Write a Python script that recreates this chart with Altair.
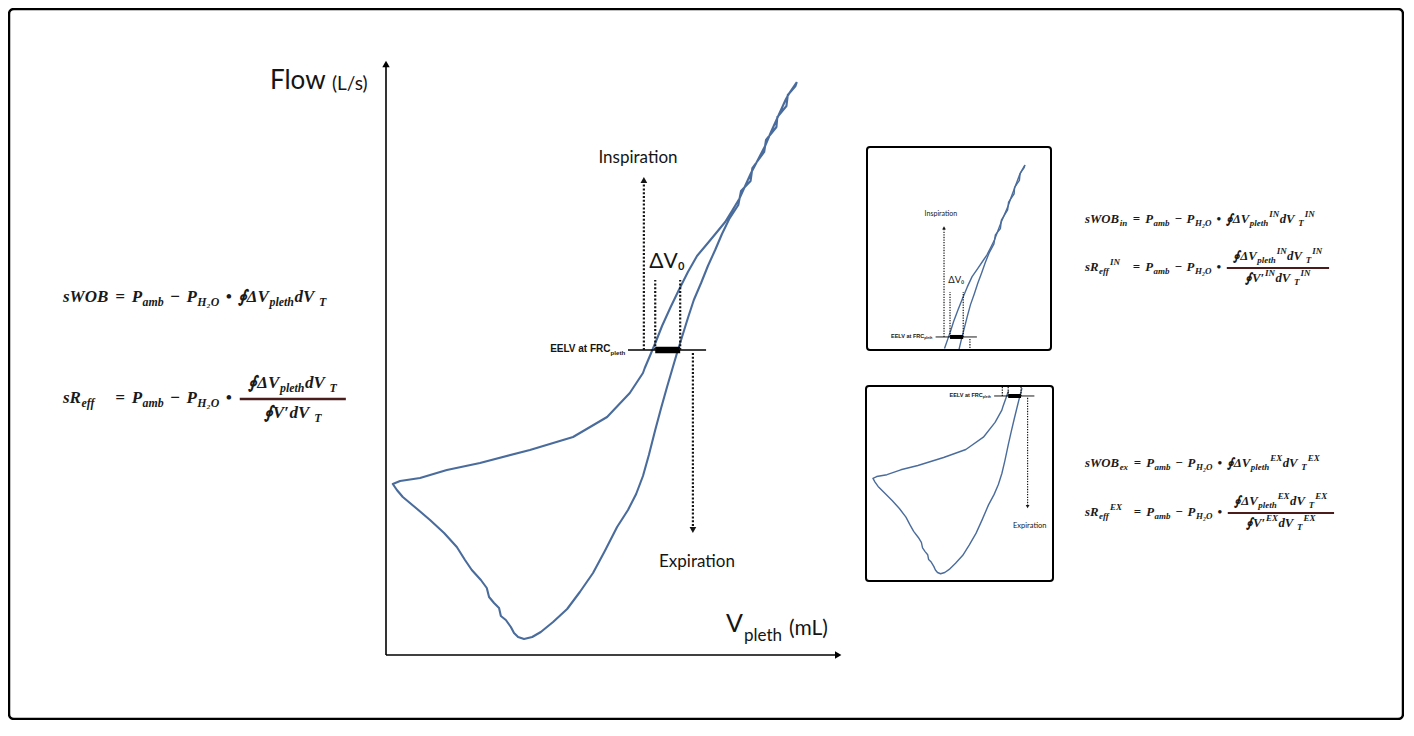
import altair as alt
import pandas as pd
import numpy as np

# ------------------------------------------------------------------ data
# plethysmographic loop: V_pleth (arbitrary mL units) vs flow (L/s)
loop_v = [90.5, 89.0, 88.1, 87.0, 85.9, 84.8, 83.5, 81.9, 80.4, 79.1, 77.8, 76.2, 74.7,
          72.9, 70.9, 68.5, 66.5, 64.5, 62.6, 60.8, 59.5, 58.4, 57.0, 56.6, 53.7, 48.7, 41.2,
          31.7, 20.7, 13.4, 7.5, 3.1, 1.5,
          2.4, 3.7, 6.6, 9.7, 12.8, 15.6, 17.4, 18.9, 20.9, 22.2, 22.7, 23.8, 24.9, 25.3, 26.4,
          27.5, 28.2, 29.1, 30.4, 32.2, 34.1, 36.8, 39.9, 42.7, 45.6, 48.2, 50.9, 53.3, 55.1,
          56.6, 57.9, 59.3, 60.6, 61.9, 63.0, 64.1, 65.2, 66.5, 67.8, 69.4, 70.9, 72.5, 74.0, 75.6,
          77.6, 78.2, 80.3, 80.7, 83.3, 83.7, 86.0, 86.2, 88.2, 88.5, 90.2, 90.5]
loop_f = [2.68, 2.58, 2.51, 2.40, 2.29, 2.18, 2.04, 1.90, 1.77, 1.64, 1.51, 1.39, 1.28,
          1.18, 1.07, 0.94, 0.78, 0.60, 0.42, 0.24, 0.09, -0.03, -0.18, -0.23, -0.43, -0.67, -0.87,
          -1.00, -1.13, -1.20, -1.28, -1.31, -1.34,
          -1.40, -1.47, -1.58, -1.70, -1.83, -1.97, -2.10, -2.20, -2.30, -2.38, -2.47, -2.53, -2.58,
          -2.66, -2.70, -2.77, -2.83, -2.87, -2.89, -2.87, -2.82, -2.72, -2.59, -2.42, -2.23, -2.01,
          -1.77, -1.60, -1.44, -1.26, -1.05, -0.80, -0.58, -0.37, -0.20, -0.03, 0.13, 0.32, 0.50,
          0.67, 0.84, 1.00, 1.16, 1.31,
          1.45, 1.59, 1.69, 1.82, 1.98, 2.10, 2.23, 2.33, 2.44, 2.55, 2.64, 2.68]
eelv_v = [53.3, 70.5]          # EELV line extent (flow = 0)
bar_v = [59.3, 64.8]           # ΔV0 bar
dv_v = [59.3, 64.8]            # ΔV0 dotted markers
dv_top = 0.70
insp_v, insp_top = 56.8, 1.70
exp_v, exp_start, exp_end = 67.6, -0.03, -1.80
label_text = ["Inspiration", "ΔV₀", "Expiration"]
label_v = [55.5, 61.9, 68.5]
label_f = [1.92, 0.88, -2.12]
eelv_main, eelv_sub = "EELV at FRC", "pleth"

# ------------------------------------------------------------------ layout helpers
W, H, OFF = 1396, 712, 8
LOOP = "#4a6c9c"
INK = "#151515"


def S(lo, hi, r0, r1, clamp=False):
    return alt.Scale(domain=[lo, hi], range=[r0 - OFF, r1 - OFF], nice=False, zero=False, clamp=clamp)


main_x, main_y = S(0, 100, 386, 840), S(-3.05, 2.9, 655, 60)
top_x, top_y = S(25, 100, 867.7, 1047.7, True), S(-0.2, 2.96, 349.8, 147.0, True)
bot_x, bot_y = S(-1.0, 78.5, 867.1, 1053.1, True), S(-2.99, 0.146, 579.9, 387.0, True)
pix_x, pix_y = S(OFF, OFF + W, OFF, OFF + W), S(OFF, OFF + H, OFF, OFF + H)

loop_df = pd.DataFrame({"v": loop_v, "f": loop_f})
loop_df["ord"] = np.arange(len(loop_df))
loop_df["part"] = np.where(loop_df["ord"] < 33, "a", "b")

lab_df = pd.DataFrame({"t": label_text, "v": label_v, "f": label_f})
line_df = pd.DataFrame({"v0": [eelv_v[0]], "v1": [eelv_v[1]], "f": [0.0]})
bar_df = pd.DataFrame({"v0": [bar_v[0]], "v1": [bar_v[1]], "f": [0.0]})
dot_df = pd.DataFrame({"v": dv_v + [insp_v, exp_v],
                       "f0": [0.0, 0.0, 0.0, exp_start],
                       "f1": [dv_top, dv_top, insp_top, exp_end]})
head_df = pd.DataFrame({"v": [insp_v, exp_v], "f": [insp_top, exp_end],
                        "shape": ["triangle-up", "triangle-down"], "k": ["in", "ex"]})
eelv_df = pd.DataFrame({"t": [eelv_main], "s": [eelv_sub], "v": [eelv_v[0]], "f": [0.0]})

SANS_W = {'p': 556, 'l': 222, 'e': 556, 't': 278, 'h': 556}


def panel(xs, ys, kind, lw, lab_sizes, bar_w, dot_w, dash, head_size, eelv_size):
    X = lambda f: alt.X(f, type="quantitative", scale=xs, axis=None)
    Y = lambda f: alt.Y(f, type="quantitative", scale=ys, axis=None)
    out = []
    lp = alt.Chart(loop_df).mark_line(color=LOOP, strokeWidth=lw, strokeJoin="round")
    enc = dict(x=X("v"), y=Y("f"), order="ord:Q")
    if kind == "top":
        lp = lp.transform_filter("datum.f >= -0.21")
        enc["detail"] = "part:N"
    if kind == "bot":
        lp = lp.transform_filter("datum.f <= 0.15")
    out.append(lp.encode(**enc))
    out.append(alt.Chart(line_df).mark_rule(color="black", strokeWidth=1.3 if kind == "main" else 0.9)
               .encode(x=X("v0"), x2="v1", y=Y("f")))
    out.append(alt.Chart(bar_df).mark_rule(color="black", strokeWidth=bar_w, strokeCap="butt")
               .encode(x=X("v0"), x2="v1", y=Y("f")))
    out.append(alt.Chart(dot_df).mark_rule(color=INK, strokeWidth=dot_w, strokeDash=dash, strokeCap="butt")
               .encode(x=X("v"), y=Y("f0"), y2="f1"))
    hd = head_df if kind == "main" else head_df[head_df.k == ("in" if kind == "top" else "ex")]
    out.append(alt.Chart(hd).mark_point(filled=True, color=INK, opacity=1, size=head_size)
               .encode(x=X("v"), y=Y("f"), shape=alt.Shape("shape:N", scale=None)))
    ld = lab_df.copy()
    ld["fs"] = lab_sizes
    if kind == "top":
        ld = ld.iloc[[0, 1]]
    if kind == "bot":
        ld = ld.iloc[[2]]
    out.append(alt.Chart(ld).mark_text(font="Lato", color=INK, align="center", baseline="middle")
               .encode(x=X("v"), y=Y("f"), text="t:N", size=alt.Size("fs:Q", scale=None)))
    sub_fs = eelv_size * 0.62
    sub_w = sum(SANS_W.get(c, 500) for c in eelv_sub) * sub_fs / 1000.0
    out.append(alt.Chart(eelv_df).mark_text(font="Liberation Sans", fontWeight="bold", color=INK,
                                            align="right", baseline="middle", dx=-(4 + sub_w), dy=-1,
                                            fontSize=eelv_size)
               .encode(x=X("v"), y=Y("f"), text="t:N"))
    out.append(alt.Chart(eelv_df).mark_text(font="Liberation Sans", fontWeight="bold", color=INK,
                                            align="left", baseline="middle", dx=-(4 + sub_w),
                                            dy=eelv_size * 0.25, fontSize=sub_fs)
               .encode(x=X("v"), y=Y("f"), text="s:N"))
    if kind == "main":
        ax = pd.DataFrame({"v0": [0.0, 0.0], "v1": [0.0, 99.6], "f0": [-3.05, -3.05], "f1": [2.86, -3.05]})
        out.append(alt.Chart(ax).mark_rule(color="black", strokeWidth=1.6)
                   .encode(x=X("v0"), x2="v1", y=Y("f0"), y2="f1"))
        ah = pd.DataFrame({"v": [0.0, 99.6], "f": [2.86, -3.05], "shape": ["triangle-up", "triangle-right"]})
        out.append(alt.Chart(ah).mark_point(filled=True, color="black", opacity=1, size=55)
                   .encode(x=X("v"), y=Y("f"), shape=alt.Shape("shape:N", scale=None)))
    return out


# ------------------------------------------------------------------ formulas (typeset as text pieces)
CW = {' ': 250, 'a': 500, 'b': 500, 'c': 444, 'd': 500, 'e': 444, 'f': 333, 'h': 556, 'i': 278,
      'l': 278, 'm': 778, 'n': 556, 'o': 500, 'p': 500, 'r': 389, 's': 389, 't': 278, 'x': 500,
      'B': 667, 'E': 667, 'H': 778, 'I': 389, 'N': 722, 'O': 722, 'P': 611, 'R': 667, 'T': 611,
      'V': 667, 'W': 889, 'X': 667, '=': 570, '−': 606, '•': 350, '∮': 560, 'Δ': 612, '′': 300, '₂': 420}
OPGAP = {'=': 0.40, '−': 0.35, '•': 0.30}


def tw(t, s):
    return sum(CW.get(c, 550) for c in t) * s / 1000.0


def typeset(items, x, y, s, out):
    for t, lvl in items:
        if lvl == "op":
            g = OPGAP[t] * s
            out.append((x + g, y, t, s))
            x += 2 * g + tw(t, s)
        elif lvl == 0:
            out.append((x, y, t, s))
            x += tw(t, s)
        else:
            fs = 0.7 * s
            dy = 0.3 * s if lvl < 0 else -0.38 * s
            out.append((x + 0.5, y + dy, t, fs))
            x += tw(t, fs) + 1
    return x


def width(items, s):
    return typeset(items, 0, 0, s, [])


texts, bars = [], []


def fraction(num, den, x, y, s, bw):
    nw, dw = width(num, s), width(den, s)
    L = max(nw, dw) + 1.0 * s
    typeset(num, x + (L - nw) / 2, y - 0.88 * s, s, texts)
    typeset(den, x + (L - dw) / 2, y + 0.88 * s, s, texts)
    bars.append((x, x + L, y + 1, bw))


common = [("=", "op"), ("P", 0), ("amb", -1), ("−", "op"), ("P", 0), ("H₂O", -1), ("•", "op")]

# left formulas
sL, x0L = 17, 63
preA, preB = [("sWOB", 0)], [("sR", 0), ("eff", -1)]
xeq = x0L + max(width(preA, sL), width(preB, sL))
integ = [("∮ΔV", 0), ("pleth", -1), (" dV", 0), ("T", -1)]
denom = [("∮V′", 0), (" dV", 0), ("T", -1)]
typeset(preA, x0L, 297, sL, texts)
x = typeset(common, xeq, 297, sL, texts)
typeset(integ, x + 1, 297, sL, texts)
typeset(preB, x0L, 398, sL, texts)
x = typeset(common, xeq, 398, sL, texts)
fraction(integ, denom, x + 3, 398, sL, 2.4)

# right formulas
sR, x0R = 12.8, 1085
for sfx, tag, y1, y2 in [("in", "IN", 219, 267), ("ex", "EX", 463, 512)]:
    pa = [("sWOB", 0), (sfx, -1)]
    pb = [("sR", 0), ("eff", -1), (tag, 1)]
    xe = x0R + max(width(pa, sR), width(pb, sR))
    integ_r = [("∮ΔV", 0), ("pleth", -1), (tag, 1), (" dV", 0), ("T", -1), (tag, 1)]
    den_r = [("∮V′", 0), (tag, 1), (" dV", 0), ("T", -1), (tag, 1)]
    typeset(pa, x0R, y1, sR, texts)
    x = typeset(common, xe, y1, sR, texts)
    typeset(integ_r, x + 1, y1, sR, texts)
    typeset(pb, x0R, y2, sR, texts)
    x = typeset(common, xe, y2, sR, texts)
    fraction(integ_r, den_r, x + 2, y2, sR, 2.0)

form_df = pd.DataFrame(texts, columns=["x", "y", "t", "fs"])
bar2_df = pd.DataFrame(bars, columns=["x", "x2", "y", "w"])

PX = lambda f: alt.X(f, type="quantitative", scale=pix_x, axis=None)
PY = lambda f: alt.Y(f, type="quantitative", scale=pix_y, axis=None)

pix_layers = []
pix_layers.append(alt.Chart(form_df).mark_text(font="Liberation Serif", fontStyle="italic", fontWeight="bold",
                                               color="#1a1a1a", align="left", baseline="middle")
                  .encode(x=PX("x"), y=PY("y"), text="t:N", size=alt.Size("fs:Q", scale=None)))
pix_layers.append(alt.Chart(bar2_df).mark_rule(color="#4a1d1d")
                  .encode(x=PX("x"), x2="x2", y=PY("y"), strokeWidth=alt.StrokeWidth("w:Q", scale=None)))

titles = pd.DataFrame({"t": ["Flow", "(L/s)", "V", "pleth", "(mL)"],
                       "x": [270, 332, 726, 744, 789], "y": [81, 84, 624, 636, 629],
                       "fs": [26, 19, 25, 17, 21]})
pix_layers.append(alt.Chart(titles).mark_text(font="Lato", color=INK, align="left", baseline="middle")
                  .encode(x=PX("x"), y=PY("y"), text="t:N", size=alt.Size("fs:Q", scale=None)))

boxes = pd.DataFrame({"x": [867, 866], "x2": [1051, 1053], "y": [147, 386], "y2": [350, 581]})
pix_layers.append(alt.Chart(boxes).mark_rect(fillOpacity=0, stroke="black", strokeWidth=2, cornerRadius=3)
                  .encode(x=PX("x"), x2="x2", y=PY("y"), y2="y2"))
border = pd.DataFrame({"x": [OFF + 1], "x2": [OFF + W - 1], "y": [OFF + 1], "y2": [OFF + H - 1]})
pix_layers.append(alt.Chart(border).mark_rect(fillOpacity=0, stroke="black", strokeWidth=2.5, cornerRadius=5)
                  .encode(x=PX("x"), x2="x2", y=PY("y"), y2="y2"))

layers = []
layers += panel(main_x, main_y, "main", 2.1, [17, 21, 17], 6.5, 2.2, [2, 1.8], 45, 10)
layers += panel(top_x, top_y, "top", 1.4, [7, 9.5, 7], 4, 1.2, [1.3, 1.3], 14, 5.5)
layers += panel(bot_x, bot_y, "bot", 1.4, [7.5, 9.5, 7.5], 4, 1.2, [1.3, 1.3], 14, 5.5)
layers += pix_layers

chart = (alt.layer(*layers)
         .resolve_scale(x="independent", y="independent")
         .properties(width=W, height=H, padding=0, autosize=alt.AutoSizeParams(type="none"))
         .configure_view(stroke=None))

chart.save("out.html", embed_options={"renderer": "svg", "actions": False})
